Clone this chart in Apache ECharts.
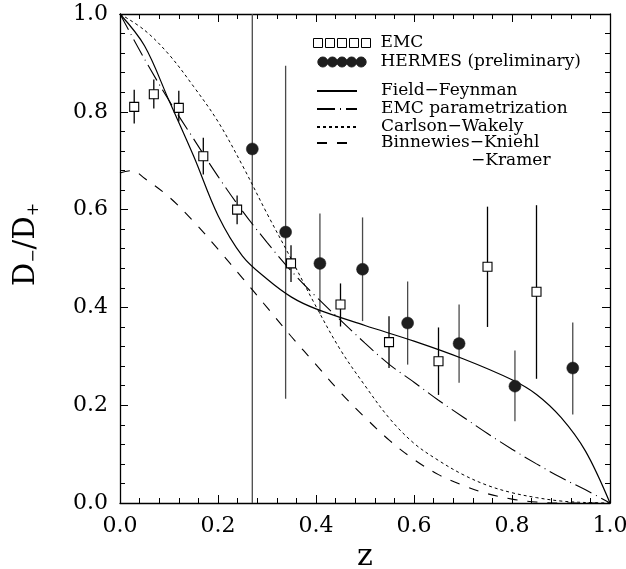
<!DOCTYPE html>
<html><head><meta charset="utf-8">
<script src="https://cdn.jsdelivr.net/npm/echarts@6/dist/echarts.min.js"></script>
<style>html,body{margin:0;padding:0;background:#fff}#c{width:626px;height:569px}</style>
</head><body><div id="c"></div>
<script>
// ---- tick labels ----
const xTickLabels = ['0.0', '0.2', '0.4', '0.6', '0.8', '1.0'];
const yTickLabels = ['0.0', '0.2', '0.4', '0.6', '0.8', '1.0'];

// ---- EMC data (open squares) ----
const emcZ  = [0.029, 0.069, 0.120, 0.170, 0.239, 0.349, 0.450, 0.549, 0.650, 0.750, 0.850];
const emcD  = [0.810, 0.836, 0.808, 0.709, 0.600, 0.490, 0.406, 0.329, 0.290, 0.483, 0.432];
const emcLo = [0.776, 0.807, 0.780, 0.672, 0.570, 0.452, 0.361, 0.276, 0.221, 0.360, 0.254];
const emcHi = [0.845, 0.866, 0.843, 0.747, 0.629, 0.527, 0.449, 0.382, 0.359, 0.606, 0.609];

// ---- HERMES data (filled circles) ----
const hermesZ  = [0.270, 0.338, 0.408, 0.495, 0.587, 0.692, 0.806, 0.924];
const hermesD  = [0.724, 0.554, 0.490, 0.478, 0.368, 0.326, 0.239, 0.276];
const hermesLo = [-0.056, 0.213, 0.387, 0.372, 0.283, 0.246, 0.167, 0.181];
const hermesHi = [1.504, 0.894, 0.592, 0.584, 0.453, 0.406, 0.312, 0.369];

// ---- Field-Feynman (solid) ----
const ffZ = [0, 0.05, 0.10, 0.15, 0.20, 0.25, 0.30, 0.35, 0.40, 0.50, 0.60, 0.70, 0.80, 0.85, 0.90, 0.95, 1.0];
const ffD = [1.0, 0.935, 0.823, 0.710, 0.588, 0.505, 0.458, 0.421, 0.397, 0.363, 0.331, 0.295, 0.252, 0.222, 0.175, 0.106, 0.0];

// ---- EMC parametrization (dash-dot) ----
const epZ = [0, 0.05, 0.10, 0.15, 0.20, 0.25, 0.30, 0.35, 0.40, 0.45, 0.50, 0.55, 0.60, 0.65, 0.70, 0.75, 0.80, 0.85, 0.90, 0.95, 1.0];
const epD = [1.0, 0.908, 0.823, 0.745, 0.668, 0.597, 0.533, 0.474, 0.422, 0.374, 0.327, 0.283, 0.247, 0.210, 0.176, 0.142, 0.110, 0.080, 0.052, 0.027, 0.0];

// ---- Carlson-Wakely (dotted) ----
const cwZ = [0, 0.05, 0.10, 0.15, 0.20, 0.25, 0.30, 0.35, 0.40, 0.45, 0.50, 0.55, 0.60, 0.65, 0.70, 0.75, 0.80, 0.85, 0.90, 0.95, 1.0];
const cwD = [1.0, 0.967, 0.917, 0.852, 0.780, 0.690, 0.592, 0.498, 0.402, 0.313, 0.240, 0.173, 0.122, 0.087, 0.058, 0.036, 0.021, 0.011, 0.004, 0.001, 0.0];

// ---- Binnewies-Kniehl-Kramer (dashed) ----
const bkZ = [0, 0.025, 0.05, 0.10, 0.15, 0.20, 0.25, 0.30, 0.35, 0.40, 0.45, 0.50, 0.55, 0.60, 0.65, 0.70, 0.75, 0.80, 0.85, 0.90, 1.0];
const bkD = [0.675, 0.680, 0.664, 0.626, 0.576, 0.519, 0.460, 0.400, 0.340, 0.283, 0.226, 0.175, 0.128, 0.089, 0.058, 0.036, 0.019, 0.008, 0.002, 0.0, 0.0];

const zip = (a, b) => a.map((v, i) => [v, b[i]]);
const zip3 = (a, b, c) => a.map((v, i) => [v, b[i], c[i]]);

const FONT = 'DejaVu Serif';

function errRenderer(color) {
  return function (params, api) {
    const x = api.value(0);
    const lo = Math.max(0, api.value(1));
    const hi = Math.min(1, api.value(2));
    const p1 = api.coord([x, lo]);
    const p2 = api.coord([x, hi]);
    return {
      type: 'line',
      shape: { x1: p1[0], y1: p1[1], x2: p2[0], y2: p2[1] },
      style: { stroke: color, lineWidth: 1.3 }
    };
  };
}

const squaresIcon = 'path://M0,0H9V9H0Z M12,0H21V9H12Z M24,0H33V9H24Z M36,0H45V9H36Z M48,0H57V9H48Z';
const circlesIcon = 'path://M0,6A6,6 0 1,1 12,6A6,6 0 1,1 0,6Z M11.5,6A6,6 0 1,1 23.5,6A6,6 0 1,1 11.5,6Z M23,6A6,6 0 1,1 35,6A6,6 0 1,1 23,6Z M34.5,6A6,6 0 1,1 46.5,6A6,6 0 1,1 34.5,6Z M46,6A6,6 0 1,1 58,6A6,6 0 1,1 46,6Z';

function axisCommon(showLabel, labels) {
  return {
    type: 'value', min: 0, max: 1, interval: 0.2,
    splitLine: { show: false },
    axisLine: { show: true, onZero: false, lineStyle: { color: '#000', width: 1.3 } },
    axisTick: { show: true, inside: true, length: 8, lineStyle: { color: '#000', width: 1 } },
    minorTick: { show: true, splitNumber: 5, length: 5, lineStyle: { color: '#000', width: 1 } },
    minorSplitLine: { show: false },
    axisLabel: {
      show: showLabel, fontFamily: FONT, fontSize: 22, color: '#000', margin: 12,
      formatter: v => labels ? labels[Math.round(v / 0.2)] : ''
    }
  };
}

const chart = echarts.init(document.getElementById('c'), null, { renderer: 'canvas' });

const lineBase = { type: 'line', showSymbol: false, symbol: 'none', smooth: 0.35, z: 3, silent: true, animation: false };

const legendText = { fontFamily: FONT, fontSize: 17, color: '#000', lineHeight: 18 };

const option = {
  backgroundColor: '#fff',
  animation: false,
  grid: { left: 120, right: 16, top: 14, bottom: 66, containLabel: false, outerBoundsMode: 'none' },
  xAxis: [
    Object.assign(axisCommon(true, xTickLabels), {
      position: 'bottom', name: 'z', nameLocation: 'middle', nameGap: 29,
      nameTextStyle: { fontFamily: FONT, fontSize: 30, color: '#000' }
    }),
    Object.assign(axisCommon(false, null), { position: 'top' })
  ],
  yAxis: [
    Object.assign(axisCommon(true, yTickLabels), {
      position: 'left', name: '{d|D}{s|−}{d|/D}{s|+}', nameLocation: 'middle', nameGap: 78, nameRotate: 90,
      nameTextStyle: {
        fontFamily: FONT, color: '#000', padding: [0, 0, 0, 28],
        rich: {
          d: { fontFamily: FONT, fontSize: 29, lineHeight: 32, color: '#000', verticalAlign: 'middle' },
          s: { fontFamily: FONT, fontSize: 16, lineHeight: 14, color: '#000', verticalAlign: 'bottom' }
        }
      }
    }),
    Object.assign(axisCommon(false, null), { position: 'right' })
  ],
  legend: [
    {
      orient: 'vertical', left: 313, top: 34, padding: 0, itemGap: 1,
      itemWidth: 57, itemHeight: 10, selectedMode: false,
      itemStyle: { borderWidth: 1 },
      textStyle: Object.assign({ padding: [0, 0, 0, 5] }, legendText),
      data: [
        { name: 'EMC', icon: squaresIcon },
        { name: 'HERMES (preliminary)', icon: circlesIcon }
      ]
    },
    {
      orient: 'vertical', left: 316, top: 82, padding: 0, itemGap: 0,
      itemWidth: 40, itemHeight: 12, selectedMode: false,
      itemStyle: { opacity: 0 },
      textStyle: Object.assign({ padding: [0, 0, 0, 19] }, legendText),
      data: [
        { name: 'Field−Feynman' },
        { name: 'EMC parametrization' },
        { name: 'Carlson−Wakely' }
      ]
    },
    {
      orient: 'vertical', left: 316, top: 116, padding: 0, itemGap: 0,
      itemWidth: 40, itemHeight: 12, selectedMode: false,
      itemStyle: { opacity: 0 },
      textStyle: Object.assign({ padding: [18, 0, 0, 19],
        rich: { k: Object.assign({ padding: [0, 0, 0, 90] }, legendText) } }, legendText),
      formatter: function (name) {
        const parts = name.split('|');
        return parts[0] + '\n{k|' + parts[1] + '}';
      },
      data: [ { name: 'Binnewies−Kniehl|−Kramer' } ]
    }
  ],
  series: [
    {
      type: 'custom', name: 'EMC err', renderItem: errRenderer('#000'), z: 2, silent: true,
      data: zip3(emcZ, emcLo, emcHi), encode: { x: 0, y: [1, 2] }
    },
    {
      type: 'custom', name: 'HERMES err', renderItem: errRenderer('#4a4a4a'), z: 2, silent: true,
      data: zip3(hermesZ, hermesLo, hermesHi), encode: { x: 0, y: [1, 2] }
    },
    Object.assign({}, lineBase, { name: 'Field−Feynman', data: zip(ffZ, ffD), lineStyle: { color: '#000', width: 1.2, type: 'solid' } }),
    Object.assign({}, lineBase, { name: 'EMC parametrization', data: zip(epZ, epD), lineStyle: { color: '#000', width: 1.1, type: [18, 5, 1, 5] } }),
    Object.assign({}, lineBase, { name: 'Carlson−Wakely', data: zip(cwZ, cwD), lineStyle: { color: '#000', width: 1.0, type: [3, 3] } }),
    Object.assign({}, lineBase, { name: 'Binnewies−Kniehl|−Kramer', data: zip(bkZ, bkD), lineStyle: { color: '#000', width: 1.1, type: [10, 10] } }),
    {
      type: 'scatter', name: 'EMC', data: zip(emcZ, emcD), symbol: 'rect', symbolSize: 9, z: 4, silent: true,
      itemStyle: { color: '#fff', borderColor: '#000', borderWidth: 1.1, opacity: 1 }
    },
    {
      type: 'scatter', name: 'HERMES (preliminary)', data: zip(hermesZ, hermesD), symbol: 'circle', symbolSize: 12, z: 4, silent: true,
      itemStyle: { color: '#1e1e1e', borderColor: '#1e1e1e', borderWidth: 0.5, opacity: 1 }
    }
  ]
};

chart.setOption(option);
</script>
</body></html>
